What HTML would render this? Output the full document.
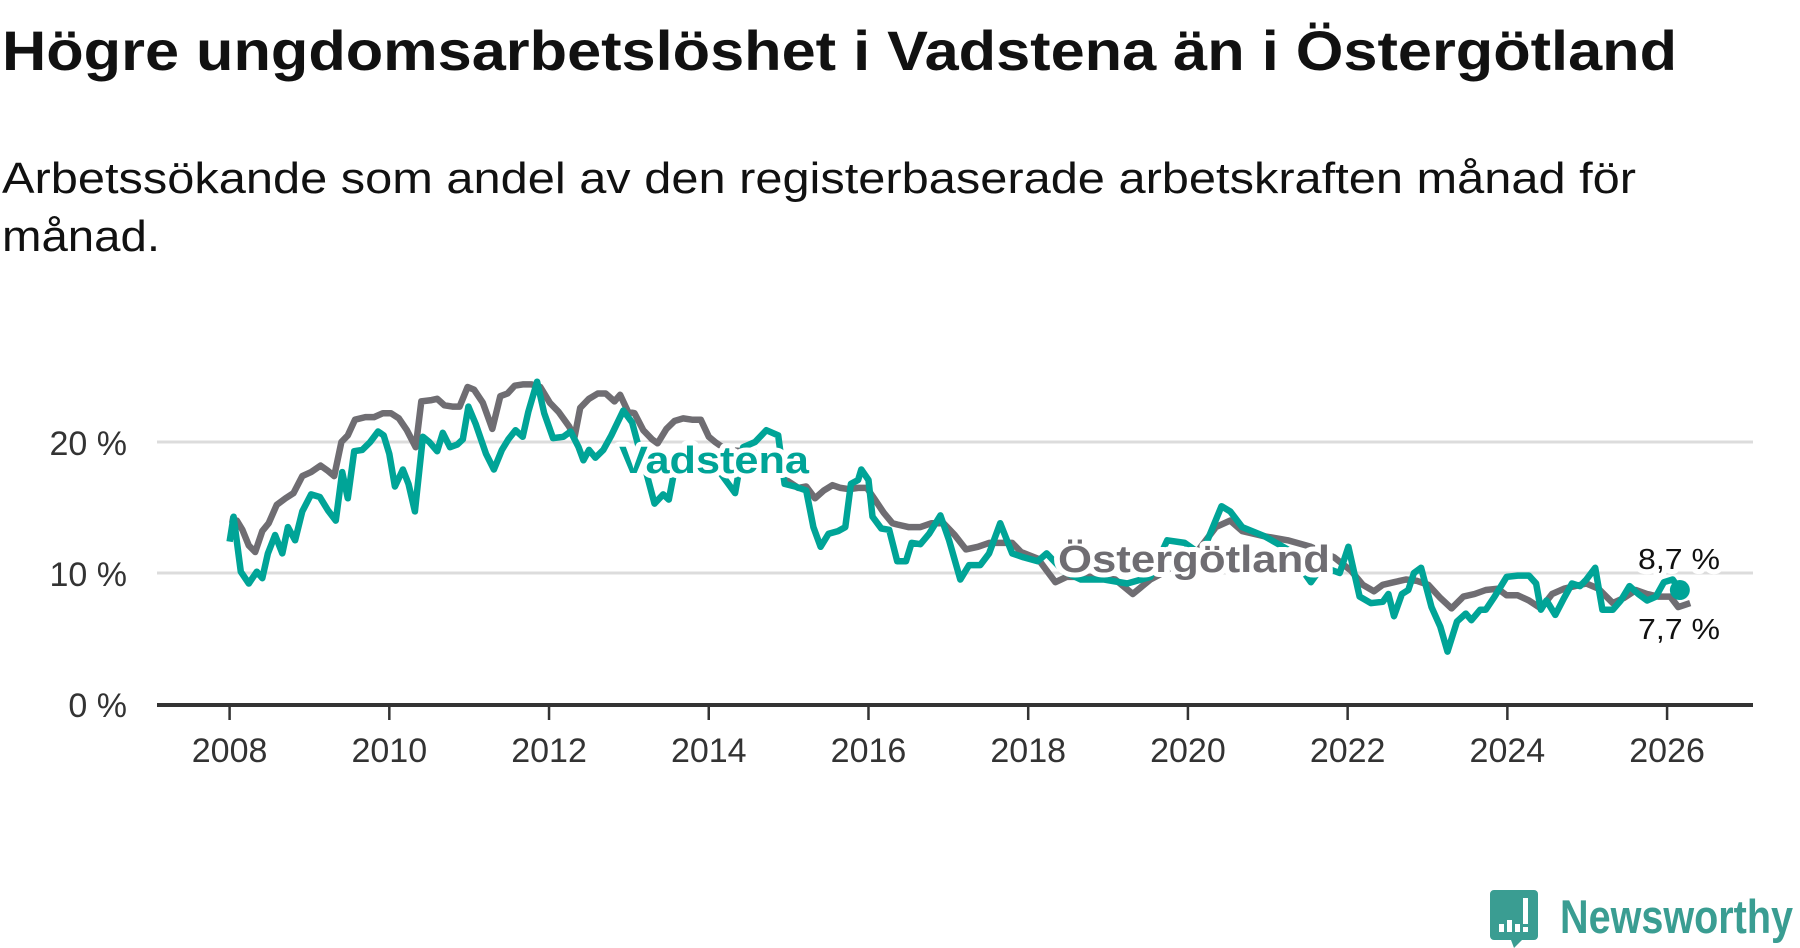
<!DOCTYPE html>
<html><head><meta charset="utf-8"><style>
html,body{margin:0;padding:0;background:#fff;}
svg{display:block;font-family:"Liberation Sans",sans-serif;}
</style></head><body>
<svg id="chart" width="1800" height="948" viewBox="0 0 1800 948" xmlns="http://www.w3.org/2000/svg">
<text x="2" y="70" font-size="56" font-weight="bold" fill="#111" textLength="1675" lengthAdjust="spacingAndGlyphs">Högre ungdomsarbetslöshet i Vadstena än i Östergötland</text>
<text x="2" y="193" font-size="44" fill="#111" textLength="1634" lengthAdjust="spacingAndGlyphs">Arbetssökande som andel av den registerbaserade arbetskraften månad för</text>
<text x="2" y="251" font-size="44" fill="#111" textLength="158" lengthAdjust="spacingAndGlyphs">månad.</text>
<g id="grid"></g><g id="axis"></g><g id="series"></g><g id="labels"></g>
<g>
<path d="M1494 890 h40 a4 4 0 0 1 4 4 v42 a4 4 0 0 1 -4 4 h-12 l-8 8 l-3 -8 h-17 a4 4 0 0 1 -4 -4 v-42 a4 4 0 0 1 4 -4z" fill="#3a9d92"/>
<rect x="1499" y="924" width="5" height="8" fill="#fff"/><rect x="1507" y="920" width="5" height="12" fill="#fff"/><rect x="1515" y="924" width="5" height="8" fill="#fff"/><rect x="1523" y="898" width="5" height="26" fill="#fff"/><rect x="1523" y="927" width="5" height="5" fill="#fff"/>
<text x="1560" y="933" font-size="47" font-weight="bold" fill="#3a9d92" textLength="233" lengthAdjust="spacingAndGlyphs">Newsworthy</text>
</g>
</svg>
<script>
const yTicks=[0,10,20];
const yTickLabels=["0 %","10 %","20 %"];
const xTicks=[2008,2010,2012,2014,2016,2018,2020,2022,2024,2026];
const ostDates=[2008.00,2008.09,2008.16,2008.24,2008.32,2008.41,2008.49,2008.59,2008.70,2008.80,2008.91,2009.02,2009.14,2009.23,2009.31,2009.40,2009.48,2009.57,2009.70,2009.81,2009.92,2010.02,2010.12,2010.22,2010.33,2010.40,2010.53,2010.60,2010.69,2010.79,2010.88,2010.98,2011.06,2011.17,2011.29,2011.39,2011.48,2011.57,2011.67,2011.78,2011.89,2012.01,2012.12,2012.25,2012.32,2012.39,2012.50,2012.61,2012.71,2012.82,2012.89,2012.99,2013.07,2013.18,2013.29,2013.36,2013.47,2013.57,2013.68,2013.79,2013.90,2014.00,2014.08,2014.22,2014.43,2014.65,2014.87,2014.97,2015.12,2015.22,2015.33,2015.44,2015.55,2015.65,2015.76,2015.87,2015.98,2016.08,2016.19,2016.30,2016.36,2016.50,2016.65,2016.79,2016.94,2017.08,2017.22,2017.37,2017.51,2017.65,2017.80,2017.91,2018.12,2018.23,2018.34,2018.48,2018.81,2019.09,2019.31,2019.53,2019.81,2020.10,2020.35,2020.53,2020.68,2020.96,2021.25,2021.54,2021.83,2022.04,2022.19,2022.33,2022.44,2022.58,2022.73,2022.87,2023.01,2023.16,2023.30,2023.45,2023.59,2023.73,2023.88,2023.99,2024.13,2024.27,2024.42,2024.56,2024.71,2024.85,2024.99,2025.14,2025.32,2025.46,2025.61,2025.75,2025.89,2026.04,2026.14,2026.29];
const ostValues=[14.1,14.0,13.3,12.1,11.6,13.2,13.8,15.2,15.7,16.1,17.4,17.7,18.2,17.8,17.4,20.0,20.5,21.7,21.9,21.9,22.2,22.2,21.8,20.9,19.6,23.1,23.2,23.3,22.8,22.7,22.7,24.2,24.0,23.0,21.0,23.5,23.7,24.3,24.4,24.4,24.2,23.0,22.3,21.2,20.4,22.6,23.3,23.7,23.7,23.1,23.6,22.3,22.2,20.9,20.2,19.9,21.0,21.6,21.8,21.7,21.7,20.4,20.0,19.4,19.3,19.1,18.4,17.1,16.5,16.6,15.7,16.3,16.7,16.5,16.4,16.5,16.5,15.6,14.6,13.8,13.7,13.5,13.5,13.8,13.8,12.9,11.8,12.0,12.3,12.3,12.3,11.6,11.1,10.2,9.3,9.7,9.7,9.5,8.4,9.5,10.4,11.5,13.5,14.0,13.2,12.8,12.5,12.0,11.2,10.2,9.1,8.6,9.1,9.3,9.5,9.4,9.1,8.1,7.3,8.2,8.4,8.7,8.8,8.3,8.3,7.9,7.3,8.4,8.8,9.0,9.2,8.8,7.7,8.1,8.7,8.4,8.2,8.2,7.4,7.7];
const vadDates=[2008.00,2008.05,2008.14,2008.24,2008.34,2008.41,2008.48,2008.57,2008.66,2008.73,2008.82,2008.91,2009.02,2009.13,2009.23,2009.33,2009.41,2009.48,2009.56,2009.66,2009.76,2009.86,2009.93,2010.00,2010.07,2010.17,2010.24,2010.32,2010.42,2010.50,2010.60,2010.67,2010.76,2010.85,2010.92,2010.99,2011.08,2011.21,2011.31,2011.41,2011.49,2011.58,2011.67,2011.74,2011.85,2011.94,2012.05,2012.18,2012.27,2012.37,2012.43,2012.50,2012.58,2012.68,2012.78,2012.93,2013.04,2013.11,2013.22,2013.32,2013.43,2013.50,2013.57,2013.65,2013.79,2013.97,2014.15,2014.33,2014.43,2014.58,2014.72,2014.87,2014.95,2015.08,2015.22,2015.31,2015.40,2015.50,2015.62,2015.71,2015.78,2015.87,2015.91,2016.00,2016.05,2016.16,2016.26,2016.36,2016.47,2016.54,2016.65,2016.76,2016.90,2017.01,2017.15,2017.26,2017.40,2017.51,2017.65,2017.80,2017.94,2018.12,2018.23,2018.45,2018.66,2018.95,2019.24,2019.53,2019.74,2019.96,2020.17,2020.42,2020.53,2020.68,2020.96,2021.25,2021.54,2021.68,2021.90,2022.01,2022.15,2022.29,2022.44,2022.51,2022.58,2022.68,2022.76,2022.83,2022.92,2023.05,2023.16,2023.25,2023.37,2023.48,2023.55,2023.66,2023.73,2023.84,2023.99,2024.13,2024.27,2024.36,2024.42,2024.49,2024.60,2024.71,2024.81,2024.91,2024.99,2025.10,2025.19,2025.32,2025.42,2025.53,2025.64,2025.75,2025.86,2025.96,2026.07,2026.16];
const vadValues=[12.4,14.3,10.1,9.2,10.1,9.6,11.5,12.9,11.5,13.5,12.5,14.7,16.0,15.8,14.8,14.0,17.7,15.7,19.3,19.4,20.0,20.8,20.5,19.1,16.6,17.9,16.8,14.7,20.4,20.0,19.3,20.7,19.6,19.8,20.2,22.7,21.4,19.1,17.9,19.4,20.2,20.9,20.4,22.3,24.6,22.2,20.3,20.4,20.8,19.6,18.6,19.4,18.8,19.4,20.5,22.4,21.5,19.9,17.6,15.3,16.0,15.6,17.8,18.6,18.3,18.5,17.6,16.1,19.6,20.0,20.9,20.5,16.8,16.6,16.3,13.5,12.0,13.0,13.2,13.5,16.8,17.1,17.9,17.1,14.3,13.4,13.3,10.9,10.9,12.3,12.2,13.0,14.4,12.5,9.5,10.6,10.6,11.5,13.8,11.5,11.2,10.9,11.5,10.1,9.5,9.5,9.2,9.7,12.5,12.3,11.4,15.1,14.7,13.5,12.8,11.8,9.3,10.5,10.0,12.0,8.2,7.7,7.8,8.4,6.7,8.4,8.7,10.0,10.4,7.4,5.9,4.0,6.3,6.9,6.4,7.2,7.2,8.2,9.7,9.8,9.8,9.2,7.2,7.9,6.8,8.1,9.2,9.0,9.5,10.4,7.2,7.2,7.9,9.0,8.4,7.9,8.2,9.3,9.5,8.7];
const NS="http://www.w3.org/2000/svg";
const X=y=>229.6+(y-2008)*79.86;
const Y=v=>704-v*13.1;
function mk(tag,parent){const e=document.createElementNS(NS,tag);parent.appendChild(e);return e;}
const grid=document.getElementById('grid'),axis=document.getElementById('axis'),series=document.getElementById('series'),labels=document.getElementById('labels');
yTicks.forEach((t,i)=>{
  if(t>0){const l=mk('line',grid);
    
    
    l.setAttribute('x1',157);l.setAttribute('x2',1753);l.setAttribute('y1',Y(t));l.setAttribute('y2',Y(t));l.setAttribute('stroke','#dcdcdc');l.setAttribute('stroke-width',3);}
  const tx=mk('text',axis);
  
  
  tx.setAttribute('x',127);tx.setAttribute('y',Y(t)+13);tx.setAttribute('text-anchor','end');tx.setAttribute('font-size',34);tx.setAttribute('fill','#333');tx.textContent=yTickLabels[i];
});
const base=mk('line',axis);


base.setAttribute('x1',157);base.setAttribute('x2',1753);base.setAttribute('y1',705);base.setAttribute('y2',705);base.setAttribute('stroke','#333');base.setAttribute('stroke-width',4);
xTicks.forEach(t=>{
  const l=mk('line',axis);
  
  
  l.setAttribute('x1',X(t));l.setAttribute('x2',X(t));l.setAttribute('y1',705);l.setAttribute('y2',720);l.setAttribute('stroke','#333');l.setAttribute('stroke-width',2.5);
  const tx=mk('text',axis);
  
  
  tx.setAttribute('x',X(t));tx.setAttribute('y',762);tx.setAttribute('text-anchor','middle');tx.setAttribute('font-size',34);tx.setAttribute('fill','#333');tx.textContent=String(t);
});
function line(d,v,color,name){
  const p=mk('path',series);
  
  
  p.setAttribute('d',d.map((x,i)=>(i?'L':'M')+X(x).toFixed(1)+' '+Y(v[i]).toFixed(1)).join(''));
  p.setAttribute('fill','none');p.setAttribute('stroke',color);p.setAttribute('stroke-width',6.5);p.setAttribute('stroke-linejoin','round');
}
line(ostDates,ostValues,'#6f6d72','ostergotland-line');
line(vadDates,vadValues,'#00a497','vadstena-line');
const dot=mk('circle',series);


dot.setAttribute('cx',X(vadDates[vadDates.length-1]));dot.setAttribute('cy',Y(vadValues[vadValues.length-1]));dot.setAttribute('r',10);dot.setAttribute('fill','#00a497');
function lab(txt,x,y,size,weight,color,len,name){
  const t=mk('text',labels);
  
  
  t.setAttribute('x',x);t.setAttribute('y',y);t.setAttribute('font-size',size);t.setAttribute('font-weight',weight);t.setAttribute('fill',color);
  t.setAttribute('stroke','#fff');t.setAttribute('stroke-width',10);t.setAttribute('paint-order','stroke');t.setAttribute('stroke-linejoin','round');
  if(len){t.setAttribute('textLength',len);t.setAttribute('lengthAdjust','spacingAndGlyphs');}
  t.textContent=txt;
}
lab('Vadstena',619,473,38,'bold','#00a497',190,'vadstena-label');
lab('Östergötland',1058,572,38,'bold','#6f6d72',272,'ostergotland-label');
lab('8,7 %',1638,569,29,'normal','#111',82,'vadstena-end-value');
lab('7,7 %',1638,639,29,'normal','#111',82,'ostergotland-end-value');
</script>
</body></html>
